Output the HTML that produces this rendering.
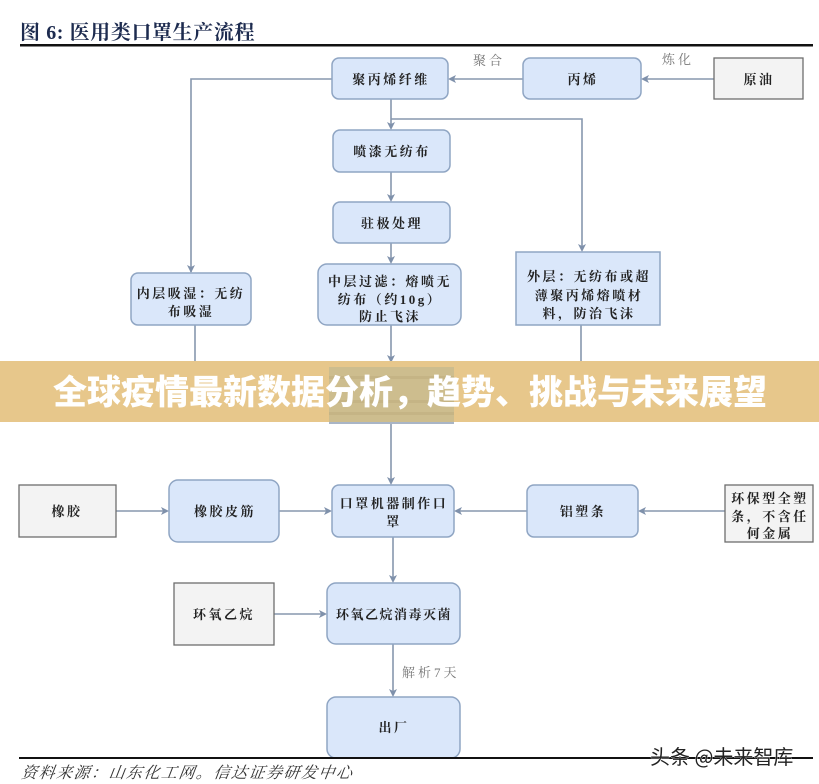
<!DOCTYPE html>
<html><head><meta charset="utf-8">
<style>
html,body{margin:0;padding:0;background:#fff;}
svg{display:block;}
.bx{font-family:"Liberation Serif","Noto Serif CJK SC",serif;font-weight:bold;font-size:13px;fill:#222;letter-spacing:2.5px;}
.lb{font-family:"Liberation Serif","Noto Serif CJK SC",serif;font-size:13px;fill:#777;letter-spacing:3px;}
</style></head>
<body>
<svg width="819" height="784" viewBox="0 0 819 784" xmlns="http://www.w3.org/2000/svg">
<rect width="819" height="784" fill="#fff"/>
<!-- title -->
<text x="20" y="39" font-family="Liberation Serif,'Noto Serif CJK SC',serif" font-weight="bold" font-size="20" fill="#1d2b4f" letter-spacing="0.6">图 6:  医用类口罩生产流程</text>
<rect x="20" y="44" width="793" height="2.5" fill="#111"/>

<g stroke="#8797ae" stroke-width="1.6" fill="none">
<line x1="714" y1="79" x2="643" y2="79"/>
<line x1="523" y1="79" x2="450" y2="79"/>
<polyline points="332,79 191,79 191,272"/>
<line x1="391" y1="99" x2="391" y2="128"/>
<polyline points="391,119 582,119 582,250"/>
<line x1="391" y1="172" x2="391" y2="200"/>
<line x1="391" y1="243" x2="391" y2="262"/>
<line x1="391" y1="325" x2="391" y2="365"/>
<polyline points="195,325 195,396 329,396"/>
<polyline points="581,325 581,396 454,396"/>
<line x1="391" y1="424" x2="391" y2="483"/>
<line x1="116" y1="511" x2="167" y2="511"/>
<line x1="279" y1="511" x2="330" y2="511"/>
<line x1="725" y1="511" x2="640" y2="511"/>
<line x1="527" y1="511" x2="456" y2="511"/>
<line x1="393" y1="537" x2="393" y2="581"/>
<line x1="274" y1="614" x2="325" y2="614"/>
<line x1="393" y1="644" x2="393" y2="695"/>
</g>
<g fill="#7f91ab">
<polygon points="649,75 641,79 649,83 647,79"/>
<polygon points="456,75 448,79 456,83 454,79"/>
<polygon points="646,507 638,511 646,515 644,511"/>
<polygon points="462,507 454,511 462,515 460,511"/>
<polygon points="161,507 169,511 161,515 163,511"/>
<polygon points="324,507 332,511 324,515 326,511"/>
<polygon points="319,610 327,614 319,618 321,614"/>
<polygon points="187,265 191,273 195,265 191,267"/>
<polygon points="387,122 391,130 395,122 391,124"/>
<polygon points="578,244 582,252 586,244 582,246"/>
<polygon points="387,194 391,202 395,194 391,196"/>
<polygon points="387,256 391,264 395,256 391,258"/>
<polygon points="387,355 391,363 395,355 391,357"/>
<polygon points="387,477 391,485 395,477 391,479"/>
<polygon points="389,575 393,583 397,575 393,577"/>
<polygon points="389,689 393,697 397,689 393,691"/>
</g>

<g fill="#dae7fa" stroke="#8fa5c3" stroke-width="1.5">
<rect x="332" y="58" width="116" height="41" rx="7"/>
<rect x="523" y="58" width="118" height="41" rx="7"/>
<rect x="333" y="130" width="117" height="42" rx="7"/>
<rect x="333" y="202" width="117" height="41" rx="7"/>
<rect x="318" y="264" width="143" height="61" rx="9"/>
<rect x="131" y="273" width="120" height="52" rx="7"/>
<rect x="516" y="252" width="144" height="73"/>
<rect x="169" y="480" width="110" height="62" rx="9"/>
<rect x="332" y="485" width="122" height="52" rx="7"/>
<rect x="527" y="485" width="111" height="52" rx="7"/>
<rect x="327" y="583" width="133" height="61" rx="9"/>
<rect x="327" y="697" width="133" height="61" rx="9"/>
</g>
<g fill="#f3f3f3" stroke="#6e6e6e" stroke-width="1.3">
<rect x="714" y="58" width="89" height="41"/>
<rect x="19" y="485" width="97" height="52"/>
<rect x="725" y="485" width="88" height="57"/>
<rect x="174" y="583" width="100" height="62"/>
</g>

<text class="lb" x="473" y="65">聚合</text>
<text class="lb" x="662" y="64">炼化</text>
<text class="lb" x="402" y="677" letter-spacing="1">解析7天</text>

<g class="bx" text-anchor="middle">
<text x="391" y="84">聚丙烯纤维</text>
<text x="583" y="84">丙烯</text>
<text x="759" y="84">原油</text>
<text x="392" y="156">喷漆无纺布</text>
<text x="392" y="228">驻极处理</text>
<text x="390" y="286">中层过滤：熔喷无</text>
<text x="390" y="304">纺布（约10g）</text>
<text x="390" y="321">防止飞沫</text>
<text x="191" y="298">内层吸湿：无纺</text>
<text x="191" y="316">布吸湿</text>
<text x="589" y="281">外层：无纺布或超</text>
<text x="589" y="300">薄聚丙烯熔喷材</text>
<text x="589" y="318">料，防治飞沫</text>
<text x="67" y="516">橡胶</text>
<text x="225" y="516">橡胶皮筋</text>
<text x="394" y="508">口罩机器制作口</text>
<text x="394" y="526">罩</text>
<text x="583" y="516">铝塑条</text>
<text x="770" y="503">环保型全塑</text>
<text x="770" y="521">条，不含任</text>
<text x="770" y="538">何金属</text>
<text x="224" y="619">环氧乙烷</text>
<text x="394" y="619" letter-spacing="1.5">环氧乙烷消毒灭菌</text>
<text x="394" y="732">出厂</text>
</g>

<rect x="0" y="361" width="819" height="61" fill="#e7c78b"/>
<rect x="329" y="367" width="125" height="57" fill="#cdbd8e"/>
<rect x="329" y="376" width="125" height="3" fill="#bfae7f" opacity="0.6"/>
<rect x="329" y="400" width="125" height="3" fill="#bfae7f" opacity="0.6"/>
<rect x="329" y="412" width="125" height="3" fill="#bfae7f" opacity="0.6"/>
<rect x="329" y="422" width="125" height="2" fill="#a9b5c6"/>
<text x="410" y="404" text-anchor="middle" font-family="'Noto Sans CJK SC','WenQuanYi Zen Hei',sans-serif" font-weight="900" font-size="34" fill="#fff">全球疫情最新数据分析，趋势、挑战与未来展望</text>

<rect x="19" y="757" width="794" height="2" fill="#111"/>
<text x="21" y="778" font-family="'Liberation Serif','Noto Serif CJK SC',serif" font-style="italic" font-size="16" fill="#333" letter-spacing="1.5" transform="skewX(-8) translate(109,0)">资料来源：山东化工网。信达证券研发中心</text>
<text x="650" y="764" font-family="'Noto Sans CJK SC',sans-serif" font-size="20" fill="#222" stroke="#fff" stroke-width="0.6" paint-order="stroke">头条 @未来智库</text>
</svg>
</body></html>
